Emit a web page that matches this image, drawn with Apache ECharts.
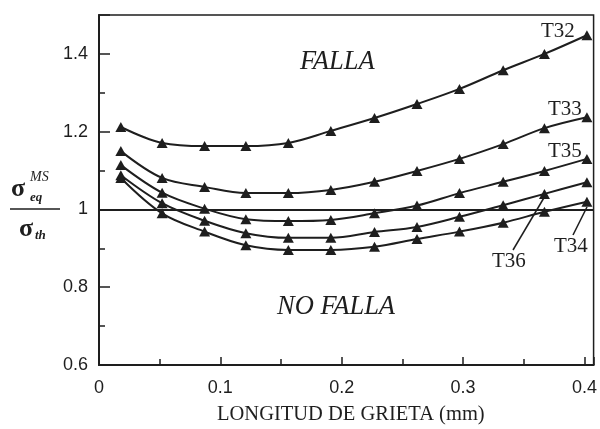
<!DOCTYPE html>
<html>
<head>
<meta charset="utf-8">
<script src="https://cdn.jsdelivr.net/npm/echarts@6/dist/echarts.min.js"></script>
<style>html,body{margin:0;padding:0;background:#fff}#c{width:600px;height:429px}</style>
</head>
<body>
<div id="c"></div>
<script>
// crack length (mm)
var crackLength = [0.018, 0.052, 0.087, 0.121, 0.156, 0.191, 0.227, 0.262, 0.297, 0.333, 0.367, 0.402];
var T32 = [1.212, 1.171, 1.163, 1.163, 1.171, 1.202, 1.235, 1.271, 1.310, 1.358, 1.400, 1.448];
var T33 = [1.150, 1.081, 1.058, 1.042, 1.042, 1.050, 1.071, 1.099, 1.130, 1.168, 1.209, 1.237];
var T35 = [1.114, 1.043, 1.002, 0.975, 0.970, 0.973, 0.990, 1.010, 1.042, 1.071, 1.099, 1.130];
var T36 = [1.088, 1.016, 0.971, 0.939, 0.927, 0.927, 0.942, 0.955, 0.981, 1.011, 1.040, 1.070];
var T34 = [1.081, 0.990, 0.943, 0.908, 0.896, 0.896, 0.904, 0.924, 0.943, 0.966, 0.994, 1.020];
var seriesNames = ['T32', 'T33', 'T35', 'T36', 'T34'];
var seriesValues = [T32, T33, T35, T36, T34];
var xTickLabels = ['0', '0.1', '0.2', '0.3', '0.4'];
var yTickLabels = ['0.6', '0.8', '1', '1.2', '1.4'];
var threshold = 1.0;

var ink = '#1e1e1e';
var serif = '"Liberation Serif", "DejaVu Serif", serif';
var sans = '"Liberation Sans", Arial, sans-serif';

function fmt(list) {
  return function (v) {
    for (var i = 0; i < list.length; i++) {
      if (Math.abs(parseFloat(list[i]) - v) < 1e-6) return list[i];
    }
    return '';
  };
}

var series = seriesNames.map(function (name, i) {
  var s = {
    name: name,
    type: 'line',
    smooth: 0.35,
    symbol: 'triangle',
    symbolSize: [11, 10],
    showAllSymbol: true,
    lineStyle: { color: ink, width: 2 },
    itemStyle: { color: ink },
    data: crackLength.map(function (x, j) { return [x, seriesValues[i][j]]; }),
    z: 3
  };
  if (i === 0) {
    s.markLine = {
      silent: true,
      symbol: 'none',
      label: { show: false },
      lineStyle: { color: ink, width: 2, type: 'solid' },
      data: [{ yAxis: threshold }]
    };
  }
  return s;
});

var chart = echarts.init(document.getElementById('c'));
chart.setOption({
  animation: false,
  backgroundColor: '#fff',
  grid: { left: 99, right: 3, top: 15, bottom: 64, show: true, borderColor: ink, borderWidth: 1.5 },
  xAxis: {
    type: 'value', min: 0, max: 0.4075, interval: 0.1,
    axisLine: { lineStyle: { color: ink, width: 2 } },
    axisTick: { inside: true, length: 8, lineStyle: { color: ink, width: 1.5 } },
    minorTick: { show: true, splitNumber: 2, length: 6, lineStyle: { color: ink, width: 1.5 } },
    splitLine: { show: false },
    axisLabel: { formatter: fmt(xTickLabels), color: ink, fontFamily: sans, fontSize: 18, margin: 14, showMaxLabel: false }
  },
  yAxis: {
    type: 'value', min: 0.6, max: 1.5, interval: 0.2,
    axisLine: { lineStyle: { color: ink, width: 2 } },
    axisTick: { inside: true, length: 11, lineStyle: { color: ink, width: 1.5 } },
    minorTick: { show: true, splitNumber: 2, length: 6, lineStyle: { color: ink, width: 1.5 } },
    splitLine: { show: false },
    axisLabel: { formatter: fmt(yTickLabels), color: ink, fontFamily: sans, fontSize: 18, margin: 11, showMaxLabel: false }
  },
  series: series,
  graphic: [
    { type: 'text', left: 217, top: 404, style: { text: 'LONGITUD DE GRIETA (mm)', font: '20.5px ' + serif, fill: ink } },
    // y-axis title fraction
    { type: 'text', left: 11, top: 176, style: { text: 'σ', font: 'bold 26px ' + serif, fill: ink } },
    { type: 'text', left: 30, top: 170, style: { text: 'MS', font: 'italic 14px ' + serif, fill: ink } },
    { type: 'text', left: 30, top: 191, style: { text: 'eq', font: 'italic bold 13px ' + serif, fill: ink } },
    { type: 'line', shape: { x1: 10, y1: 209, x2: 60, y2: 209 }, style: { stroke: ink, lineWidth: 1.5 } },
    { type: 'text', left: 19, top: 216, style: { text: 'σ', font: 'bold 26px ' + serif, fill: ink } },
    { type: 'text', left: 35, top: 229, style: { text: 'th', font: 'italic bold 13px ' + serif, fill: ink } },
    // regions
    { type: 'text', left: 300, top: 49, style: { text: 'FALLA', font: 'italic 26.5px ' + serif, fill: ink } },
    { type: 'text', left: 277, top: 294, style: { text: 'NO FALLA', font: 'italic 26.5px ' + serif, fill: ink } },
    // series labels
    { type: 'text', left: 541, top: 21, style: { text: 'T32', font: '21px ' + serif, fill: ink } },
    { type: 'text', left: 548, top: 99, style: { text: 'T33', font: '21px ' + serif, fill: ink } },
    { type: 'text', left: 548, top: 141, style: { text: 'T35', font: '21px ' + serif, fill: ink } },
    { type: 'text', left: 492, top: 251, style: { text: 'T36', font: '21px ' + serif, fill: ink } },
    { type: 'text', left: 554, top: 236, style: { text: 'T34', font: '21px ' + serif, fill: ink } },
    { type: 'line', shape: { x1: 513, y1: 250, x2: 545, y2: 196 }, style: { stroke: ink, lineWidth: 1.5 } },
    { type: 'line', shape: { x1: 573, y1: 235, x2: 587, y2: 207 }, style: { stroke: ink, lineWidth: 1.5 } }
  ]
});
</script>
</body>
</html>
